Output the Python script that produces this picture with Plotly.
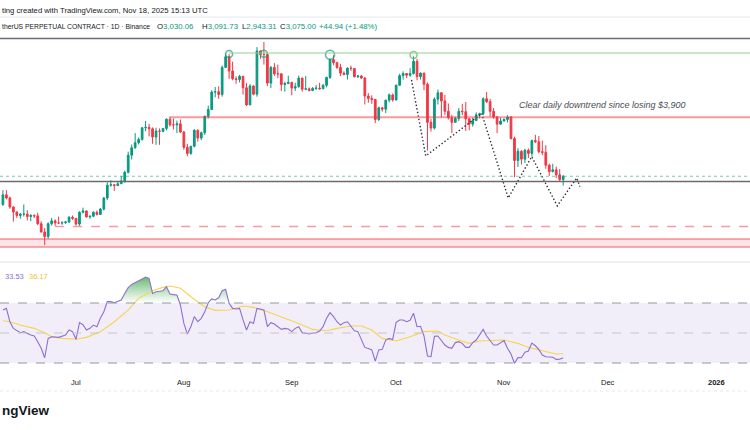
import plotly.graph_objects as go
import pandas as pd

# daily candles, Jun 10 -> Nov 18 2025
dates = pd.date_range("2025-06-10", "2025-11-18", freq="D")

opens = [
    # Jun 10-30
    2680, 2815, 2770, 2645, 2575, 2525, 2545, 2545, 2510, 2525, 2520, 2410, 2295, 2230, 2410, 2450, 2420, 2420, 2425, 2435, 2500,
    # Jul
    2485, 2405, 2570, 2590, 2505, 2515, 2570, 2540, 2615, 2770, 2950, 2955, 2945, 2970, 3010, 3130, 3370, 3475, 3545, 3590,
    3755, 3760, 3740, 3625, 3710, 3705, 3745, 3875, 3795, 3795, 3810,
    # Aug
    3695, 3480, 3395, 3495, 3720, 3610, 3685, 3915, 4010, 4255, 4260, 4220, 4600, 4750, 4550, 4440, 4430, 4475, 4315, 4075,
    4340, 4225, 4830, 4780, 4780, 4380, 4600, 4510, 4510, 4360, 4375,
    # Sep
    4390, 4310, 4330, 4450, 4295, 4300, 4275, 4305, 4310, 4300, 4350, 4460, 4710, 4665, 4600, 4520, 4500, 4590, 4585, 4470,
    4480, 4450, 4200, 4165, 4150, 3870, 4035, 4015, 4140, 4215,
    # Oct
    4145, 4350, 4485, 4515, 4490, 4515, 4685, 4470, 4520, 4365, 3830, 3750, 4155, 4245, 4130, 3985, 3895, 3830, 3885, 3985,
    3980, 3880, 3805, 3855, 3935, 3950, 4160, 4120, 3985, 3905, 3805,
    # Nov 1-18
    3850, 3870, 3905, 3605, 3295, 3425, 3315, 3440, 3395, 3575, 3560, 3420, 3410, 3230, 3140, 3165, 3095, 3030.06,
]
highs = [
    2880, 2880, 2790, 2650, 2580, 2560, 2680, 2600, 2545, 2540, 2565, 2445, 2350, 2430, 2490, 2470, 2510, 2445, 2450, 2520, 2525,
    2490, 2585, 2635, 2595, 2525, 2585, 2595, 2630, 2785, 2990, 3020, 2965, 3010, 3080, 3155, 3420, 3520, 3680, 3620, 3760,
    3850, 3810, 3760, 3755, 3745, 3750, 3885, 3910, 3885, 3855, 3870,
    3710, 3530, 3500, 3735, 3730, 3700, 3925, 4065, 4280, 4325, 4335, 4625, 4790, 4785, 4680, 4475, 4495, 4480, 4380, 4365,
    4350, 4885, 4840, 4956, 4790, 4620, 4660, 4640, 4520, 4400, 4485,
    4400, 4385, 4485, 4455, 4480, 4320, 4325, 4355, 4385, 4365, 4470, 4720, 4770, 4680, 4650, 4545, 4600, 4625, 4590, 4490,
    4495, 4465, 4240, 4210, 4160, 4050, 4040, 4150, 4235, 4235,
    4360, 4510, 4545, 4520, 4590, 4755, 4720, 4530, 4525, 4390, 3880, 4180, 4290, 4255, 4215, 4095, 3935, 3910, 4030, 4090,
    4115, 3885, 3895, 3970, 3965, 4180, 4255, 4160, 4030, 3920, 3895,
    3885, 3930, 3915, 3630, 3470, 3440, 3460, 3465, 3590, 3655, 3640, 3575, 3510, 3250, 3250, 3210, 3175, 3091.73,
]
lows = [
    2660, 2750, 2620, 2440, 2490, 2480, 2510, 2455, 2445, 2490, 2390, 2285, 2111, 2200, 2385, 2380, 2405, 2395, 2410, 2420, 2465,
    2385, 2380, 2555, 2495, 2480, 2500, 2525, 2535, 2595, 2740, 2930, 2870, 2935, 2970, 2985, 3115, 3310, 3460, 3520, 3575,
    3705, 3635, 3530, 3515, 3515, 3690, 3720, 3770, 3730, 3680, 3680,
    3445, 3355, 3375, 3480, 3560, 3580, 3655, 3885, 4000, 4180, 4160, 4190, 4595, 4440, 4420, 4370, 4390, 4220, 4060, 4075,
    4210, 4190, 4720, 4640, 4340, 4310, 4480, 4450, 4270, 4260, 4365,
    4210, 4270, 4315, 4260, 4280, 4265, 4270, 4285, 4290, 4300, 4320, 4440, 4630, 4580, 4480, 4490, 4430, 4550, 4460, 4450,
    4440, 4080, 4105, 4090, 3820, 3850, 3980, 3960, 4110, 4120,
    4135, 4340, 4430, 4450, 4470, 4500, 4420, 4430, 4280, 3435, 3700, 3730, 4080, 3900, 3935, 3870, 3680, 3830, 3850, 3930,
    3710, 3720, 3770, 3850, 3885, 3930, 4100, 3910, 3880, 3680, 3800,
    3840, 3830, 3590, 3060, 3205, 3240, 3260, 3330, 3350, 3540, 3395, 3370, 3180, 3080, 3130, 3050, 3000, 2943.31,
]
closes = [
    2815, 2770, 2645, 2575, 2525, 2545, 2545, 2510, 2525, 2520, 2410, 2295, 2230, 2410, 2450, 2420, 2420, 2425, 2435, 2500, 2485,
    2405, 2570, 2590, 2505, 2515, 2570, 2540, 2615, 2770, 2950, 2955, 2945, 2970, 3010, 3130, 3370, 3475, 3545, 3590, 3755,
    3760, 3740, 3625, 3710, 3705, 3745, 3875, 3795, 3795, 3810, 3695,
    3480, 3395, 3495, 3720, 3610, 3685, 3915, 4010, 4255, 4260, 4220, 4600, 4750, 4550, 4440, 4430, 4475, 4315, 4075, 4340,
    4225, 4830, 4780, 4780, 4380, 4600, 4510, 4510, 4360, 4375, 4390,
    4310, 4330, 4450, 4295, 4300, 4275, 4305, 4310, 4300, 4350, 4460, 4710, 4665, 4600, 4520, 4500, 4590, 4585, 4470, 4480,
    4450, 4200, 4165, 4150, 3870, 4035, 4015, 4140, 4215, 4145,
    4350, 4485, 4515, 4490, 4515, 4685, 4470, 4520, 4365, 3830, 3750, 4155, 4245, 4130, 3985, 3895, 3830, 3885, 3985, 3980,
    3880, 3805, 3855, 3935, 3950, 4160, 4120, 3985, 3905, 3805, 3850,
    3870, 3905, 3605, 3295, 3425, 3315, 3440, 3395, 3575, 3560, 3420, 3410, 3230, 3140, 3165, 3095, 3030.06, 3075.00,
]

# drawn levels
ath_level = 4802
resist_level = 3900
round_level = 3000
last_price = 3075
dash_level = 2370
zone_low, zone_high = 2085, 2195

top_dates = ["2025-08-14", "2025-08-24", "2025-09-12", "2025-10-06"]
top_prices = [4788, 4792, 4778, 4774]
top_sizes = [7, 7, 9, 7]
top_colors = ["#1e9c79", "#1e9c79", "#1e9c79", "#5cb85c"]

zig_dates = ["2025-10-05 10:00", "2025-10-09 12:00", "2025-10-25 14:00", "2025-11-02 05:00",
             "2025-11-08 23:00", "2025-11-16 07:00", "2025-11-21 21:00", "2025-11-22 19:00"]
zig_prices = [4425, 3360, 3955, 2770, 3350, 2660, 3050, 2930]

# RSI(14) and its moving average
rsi_dates = [
    "2025-06-10", "2025-06-11", "2025-06-12", "2025-06-13", "2025-06-15", "2025-06-16", "2025-06-18", "2025-06-19",
    "2025-06-20", "2025-06-21", "2025-06-22", "2025-06-23", "2025-06-24", "2025-06-26", "2025-06-28", "2025-06-29",
    "2025-06-30", "2025-07-01", "2025-07-02", "2025-07-03", "2025-07-04", "2025-07-05", "2025-07-06", "2025-07-07",
    "2025-07-08", "2025-07-09", "2025-07-10", "2025-07-11", "2025-07-12", "2025-07-13", "2025-07-14", "2025-07-15",
    "2025-07-16", "2025-07-17", "2025-07-18", "2025-07-19", "2025-07-20", "2025-07-21", "2025-07-22", "2025-07-23",
    "2025-07-24", "2025-07-25", "2025-07-26", "2025-07-27", "2025-07-28", "2025-07-29", "2025-07-30", "2025-07-31",
    "2025-08-01", "2025-08-02", "2025-08-03", "2025-08-04", "2025-08-05", "2025-08-06", "2025-08-07", "2025-08-08",
    "2025-08-09", "2025-08-10", "2025-08-11", "2025-08-12", "2025-08-13", "2025-08-14", "2025-08-15", "2025-08-16",
    "2025-08-17", "2025-08-18", "2025-08-19", "2025-08-20", "2025-08-21", "2025-08-22", "2025-08-23", "2025-08-24",
    "2025-08-25", "2025-08-26", "2025-08-27", "2025-08-28", "2025-08-29", "2025-08-30", "2025-08-31", "2025-09-01",
    "2025-09-02", "2025-09-03", "2025-09-04", "2025-09-05", "2025-09-06", "2025-09-07", "2025-09-08", "2025-09-09",
    "2025-09-10", "2025-09-11", "2025-09-12", "2025-09-13", "2025-09-14", "2025-09-15", "2025-09-16", "2025-09-17",
    "2025-09-18", "2025-09-19", "2025-09-20", "2025-09-21", "2025-09-22", "2025-09-23", "2025-09-24", "2025-09-25",
    "2025-09-26", "2025-09-27", "2025-09-28", "2025-09-29", "2025-09-30", "2025-10-01", "2025-10-02", "2025-10-03",
    "2025-10-04", "2025-10-05", "2025-10-06", "2025-10-07", "2025-10-08", "2025-10-09", "2025-10-10", "2025-10-11",
    "2025-10-12", "2025-10-13", "2025-10-14", "2025-10-15", "2025-10-16", "2025-10-17", "2025-10-18", "2025-10-19",
    "2025-10-20", "2025-10-21", "2025-10-22", "2025-10-23", "2025-10-24", "2025-10-25", "2025-10-26", "2025-10-27",
    "2025-10-28", "2025-10-29", "2025-10-30", "2025-10-31", "2025-11-01", "2025-11-02", "2025-11-03", "2025-11-04",
    "2025-11-05", "2025-11-06", "2025-11-07", "2025-11-08", "2025-11-09", "2025-11-10", "2025-11-11", "2025-11-12",
    "2025-11-13", "2025-11-14", "2025-11-15", "2025-11-16", "2025-11-17", "2025-11-18",
]
rsi_values = [
    65.3, 66.4, 57.5, 53.1, 50.2, 50.9, 48.7, 48.0,
    44.2, 39.8, 33.5, 46.4, 47.5, 47.1, 48.7, 52.0,
    50.9, 45.8, 56.9, 55.5, 52.0, 53.1, 55.3, 54.2,
    59.8, 64.2, 70.9, 70.9, 70.2, 71.0, 72.0, 76.4,
    80.2, 82.4, 83.5, 84.5, 86.0, 87.3, 86.4, 76.4,
    77.5, 77.8, 78.2, 80.9, 76.0, 75.6, 75.3, 68.7,
    56.4, 49.3, 54.2, 60.9, 57.5, 59.8, 64.2, 70.2,
    72.7, 72.0, 73.5, 78.2, 79.1, 69.8, 66.4, 66.0,
    66.4, 58.7, 52.0, 57.5, 56.4, 66.4, 65.8, 65.3,
    54.2, 56.9, 56.0, 54.2, 52.4, 53.1, 52.7, 50.9,
    53.1, 54.2, 50.2, 49.8, 49.3, 49.8, 50.2, 51.3,
    54.2, 59.8, 63.5, 60.9, 57.5, 55.3, 56.9, 57.5,
    54.2, 51.5, 50.9, 45.7, 40.4, 39.6, 38.7, 31.3,
    38.7, 39.1, 45.3, 46.4, 45.7, 57.1, 58.7, 58.7,
    57.5, 58.5, 63.1, 54.2, 54.5, 48.0, 34.7, 34.2,
    47.8, 48.0, 45.0, 42.0, 40.4, 39.8, 43.6, 44.2,
    43.1, 40.4, 40.4, 43.6, 45.3, 48.7, 52.4, 48.0,
    45.3, 42.0, 42.0, 43.6, 44.9, 39.8, 36.0, 29.8,
    33.6, 33.5, 37.2, 38.0, 43.3, 41.5, 39.1, 35.3,
    34.2, 34.0, 33.8, 32.4, 32.5, 33.53,
]
ma_dates = [
    "2025-06-10", "2025-06-12", "2025-06-15", "2025-06-19", "2025-06-22", "2025-06-24", "2025-06-27", "2025-07-01",
    "2025-07-04", "2025-07-08", "2025-07-12", "2025-07-16", "2025-07-19", "2025-07-23", "2025-07-26", "2025-07-28",
    "2025-07-31", "2025-08-03", "2025-08-07", "2025-08-10", "2025-08-14", "2025-08-18", "2025-08-21", "2025-08-25",
    "2025-08-30", "2025-09-03", "2025-09-07", "2025-09-11", "2025-09-14", "2025-09-18", "2025-09-21", "2025-09-24",
    "2025-09-27", "2025-10-01", "2025-10-05", "2025-10-09", "2025-10-13", "2025-10-15", "2025-10-19", "2025-10-22",
    "2025-10-25", "2025-10-29", "2025-11-01", "2025-11-05", "2025-11-08", "2025-11-12", "2025-11-16", "2025-11-18",
]
ma_values = [
    58.2, 57.5, 55.3, 53.1, 50.2, 47.5, 46.4, 45.8,
    47.1, 50.9, 57.5, 65.3, 73.1, 78.2, 80.4, 81.3,
    79.8, 74.2, 67.5, 65.1, 65.3, 68.0, 67.1, 64.2,
    59.8, 56.4, 52.4, 51.5, 53.1, 54.7, 54.7, 52.0,
    46.4, 44.7, 47.5, 50.9, 51.3, 48.7, 45.3, 43.1,
    44.7, 44.9, 45.3, 43.1, 40.4, 38.2, 36.0, 36.17,
]

month_dates = ["2025-07-01", "2025-08-01", "2025-09-01", "2025-10-01", "2025-11-01", "2025-12-01", "2026-01-01"]
month_labels = ["Jul", "Aug", "Sep", "Oct", "Nov", "Dec", "<b>2026</b>"]

H = 430.0
def py(pix):
    # pixel row -> paper y
    return 1 - pix / H

x_range = ["2025-06-09 03:50", "2026-01-10 16:20"]
x_end = "2026-01-12"
font = "Liberation Sans"
green = "#089981"
dark = "#131722"

fig = go.Figure()

fig.add_trace(go.Candlestick(
    x=dates, open=opens, high=highs, low=lows, close=closes,
    increasing=dict(line=dict(color="#089981", width=1), fillcolor="#089981"),
    decreasing=dict(line=dict(color="#F23645", width=1), fillcolor="#F23645"),
    whiskerwidth=0, hoverinfo="skip", showlegend=False, xaxis="x", yaxis="y"))

fig.add_trace(go.Scatter(
    x=zig_dates, y=zig_prices, mode="lines",
    line=dict(color="#2a2e39", width=1.4, dash="1.4px,2.2px"), hoverinfo="skip", xaxis="x", yaxis="y"))

fig.add_trace(go.Scatter(
    x=top_dates, y=top_prices, mode="markers",
    marker=dict(symbol="circle-open", size=top_sizes, color=top_colors, line=dict(width=1.6, color=top_colors)),
    hoverinfo="skip", xaxis="x", yaxis="y"))

# RSI pane
rsi_over = [max(v, 70) for v in rsi_values]
fig.add_trace(go.Scatter(x=rsi_dates, y=[70] * len(rsi_dates), mode="lines", line=dict(width=0),
                         hoverinfo="skip", xaxis="x2", yaxis="y2"))
fig.add_trace(go.Scatter(
    x=rsi_dates, y=rsi_over, mode="lines", line=dict(width=0), fill="tonexty",
    fillgradient=dict(type="vertical", colorscale=[[0, "rgba(76,175,80,0)"], [1, "rgba(56,160,70,0.75)"]]),
    hoverinfo="skip", xaxis="x2", yaxis="y2"))
fig.add_trace(go.Scatter(x=ma_dates, y=ma_values, mode="lines", line=dict(color="#F7D34F", width=1.1),
                         hoverinfo="skip", xaxis="x2", yaxis="y2"))
fig.add_trace(go.Scatter(x=rsi_dates, y=rsi_values, mode="lines", line=dict(color="#8C6FD1", width=1.1),
                         hoverinfo="skip", xaxis="x2", yaxis="y2"))

shapes = [
    # header separators
    dict(type="line", xref="paper", yref="paper", x0=0, x1=1, y0=py(17), y1=py(17), line=dict(color="#e6e8ee", width=1)),
    dict(type="line", xref="paper", yref="paper", x0=0, x1=1, y0=py(38.5), y1=py(38.5), line=dict(color="#6a6d78", width=1.5)),
    dict(type="line", xref="paper", yref="paper", x0=0, x1=1, y0=py(262), y1=py(262), line=dict(color="#dfe1e6", width=1)),
    dict(type="line", xref="paper", yref="paper", x0=0, x1=1, y0=py(391), y1=py(391), line=dict(color="#e6e8ee", width=1, dash="dot")),
    # price levels
    dict(type="line", xref="x", yref="y", x0="2025-08-14", x1=x_end, y0=ath_level, y1=ath_level,
         line=dict(color="#8fd08f", width=1.2)),
    dict(type="line", xref="x", yref="y", x0="2025-07-28", x1=x_end, y0=resist_level, y1=resist_level,
         line=dict(color="rgba(242,54,69,0.5)", width=2)),
    dict(type="line", xref="paper", yref="y", x0=0, x1=1, y0=last_price, y1=last_price,
         line=dict(color="rgba(8,153,129,0.55)", width=1, dash="dot")),
    dict(type="line", xref="paper", yref="y", x0=0, x1=1, y0=round_level, y1=round_level,
         line=dict(color="#6b6b6b", width=1.5)),
    dict(type="line", xref="x", yref="y", x0="2025-06-25", x1=x_end, y0=dash_level, y1=dash_level,
         line=dict(color="rgba(242,54,69,0.5)", width=1.5, dash="dash")),
    dict(type="rect", xref="paper", yref="y", x0=-0.01, x1=1.01, y0=zone_low, y1=zone_high,
         fillcolor="rgba(242,54,69,0.13)", line=dict(color="rgba(242,54,69,0.55)", width=1.5)),
    # RSI band
    dict(type="rect", xref="paper", yref="y2", x0=0, x1=1, y0=30, y1=70,
         fillcolor="rgba(126,87,194,0.1)", line=dict(width=0), layer="below"),
    dict(type="line", xref="paper", yref="y2", x0=0, x1=1, y0=70, y1=70, line=dict(color="#9598a1", width=1, dash="dash")),
    dict(type="line", xref="paper", yref="y2", x0=0, x1=1, y0=50, y1=50, line=dict(color="#c4c6cc", width=1, dash="dash")),
    dict(type="line", xref="paper", yref="y2", x0=0, x1=1, y0=30, y1=30, line=dict(color="#9598a1", width=1, dash="dash")),
]


def note(text, px, pyy, size, color=dark, anchor="left"):
    return dict(text=text, xref="paper", yref="paper", x=px / 750, y=py(pyy), xanchor=anchor, yanchor="middle",
                showarrow=False, font=dict(family=font, size=size, color=color))


annotations = [
    note("ting created with TradingView.com, Nov 18, 2025 15:13 UTC", 0, 10, 7.7),
    note("therUS PERPETUAL CONTRACT · 1D · Binance", 0, 27, 6.8),
    note(f"O<span style='color:{green}'>3,030.06</span>", 155, 27, 7.8),
    note(f"H<span style='color:{green}'>3,091.73</span>", 200, 27, 7.8),
    note(f"L<span style='color:{green}'>2,943.31</span>", 240, 27, 7.8),
    note(f"C<span style='color:{green}'>3,075.00</span>", 278, 27, 7.8),
    note("+44.94 (+1.48%)", 317, 27, 7.8, green),
    note("<i>Clear daily downtrend since losing $3,900</i>", 517, 105, 9, "#4a4d57"),
    note("33.53", 3, 276.5, 7.5, "#8C6FD1"),
    note("36.17", 27, 276.5, 7.5, "#F2C230"),
    note("<b>ngView</b>", 0, 410, 13.5),
]
for d, lab in zip(month_dates, month_labels):
    annotations.append(dict(text=lab, xref="x2", yref="paper", x=d, y=py(382), xanchor="center", yanchor="middle",
                            showarrow=False, font=dict(family=font, size=7.5, color=dark)))

fig.update_layout(
    width=750, height=430, margin=dict(l=0, r=0, t=0, b=0),
    paper_bgcolor="white", plot_bgcolor="white", showlegend=False,
    xaxis=dict(domain=[0, 1], range=x_range, visible=False, anchor="y", rangeslider=dict(visible=False)),
    yaxis=dict(domain=[py(262), py(38)], range=[1873.8, 5012.0], visible=False, anchor="x"),
    xaxis2=dict(domain=[0, 1], range=x_range, visible=False, anchor="y2", matches="x"),
    yaxis2=dict(domain=[py(365), py(262)], range=[28.667, 97.333], visible=False, anchor="x2"),
    shapes=shapes, annotations=annotations,
)

# page has a default 8px body margin; drop it so the figure sits at the window's corner
fig.write_html("out.html", config={"displayModeBar": False},
               post_script="document.body.style.margin='0';")
